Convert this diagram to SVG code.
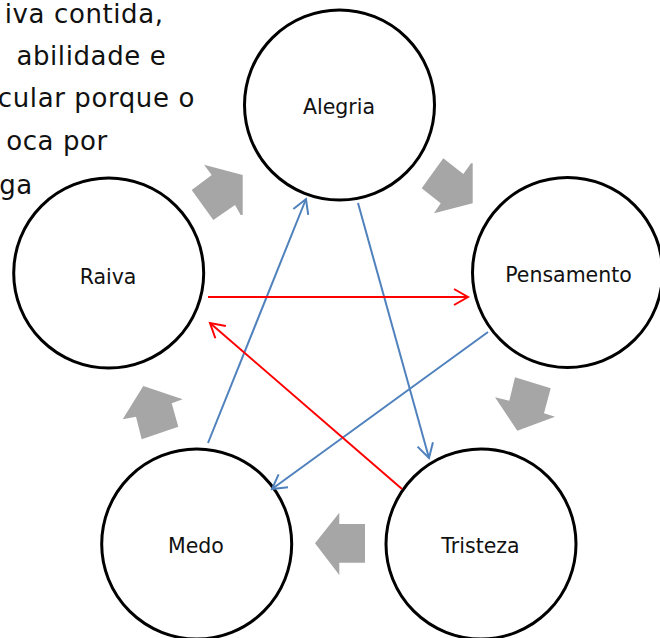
<svg xmlns="http://www.w3.org/2000/svg" width="660" height="638" viewBox="0 0 660 638">
  <style>
    .node circle { fill: #fff; stroke: #000; stroke-width: 3; }
    .label { font-family: "DejaVu Sans", sans-serif; font-size: 20.5px; fill: #111; text-anchor: middle; }
    .para { font-family: "DejaVu Sans", sans-serif; font-size: 26px; fill: #111; text-anchor: end; letter-spacing: 0.6px; }
    .blk { fill: #A6A6A6; }
    .blue { stroke: #4F81BD; stroke-width: 2; fill: none; marker-end: url(#ah-blue); }
    .red { stroke: #FF0000; stroke-width: 2; fill: none; marker-end: url(#ah-red); }
  </style>
  <defs>
    <marker id="ah-blue" markerUnits="userSpaceOnUse" markerWidth="20" markerHeight="20" viewBox="-16 -10 20 20" refX="0" refY="0" orient="auto">
      <path d="M-14,-8 L0,0 L-14,8" fill="none" stroke="#4F81BD" stroke-width="2"/>
    </marker>
    <marker id="ah-red" markerUnits="userSpaceOnUse" markerWidth="20" markerHeight="20" viewBox="-16 -10 20 20" refX="0" refY="0" orient="auto">
      <path d="M-14,-8 L0,0 L-14,8" fill="none" stroke="#FF0000" stroke-width="2"/>
    </marker>
  </defs>
  <rect width="660" height="638" fill="#fff"/>

  <g id="paragraph">
    <text class="para" x="163.6" y="22.5">iva contida,</text>
    <text class="para" x="166.3" y="64.5">abilidade e</text>
    <text class="para" x="194.9" y="107">cular porque o</text>
    <text class="para" x="107.9" y="150">oca por</text>
    <text class="para" x="32.9" y="194">ga</text>
  </g>

  <g id="cycle-arrows">
    <polygon class="blk" points="204,164.7 242.7,175 242.7,215 240.7,215 235,205 213.3,220 191.7,190 211.7,175"/>
    <polygon class="blk" points="443.3,158.3 463.3,174 471,163.3 472.7,163.3 472.7,203.3 434,213.3 440.7,203.3 421.7,188.3"/>
    <polygon class="blk" points="515,377.3 550.7,388.3 544,413.3 555,416.7 517.3,430.7 495,397.3 509.3,400.7"/>
    <polygon class="blk" points="315,543.3 339.3,512.7 339.3,524 365,524 365,562.7 339.3,562.7 339.3,575"/>
    <polygon class="blk" points="143.3,386 182.7,399.3 171.7,403.3 178.3,426.7 141.7,439.3 136,416.7 122.7,419.3"/>
  </g>

  <g id="node-alegria" class="node">
    <circle cx="339.5" cy="105" r="95"/>
    <text class="label" x="339" y="114">Alegria</text>
  </g>
  <g id="node-raiva" class="node">
    <circle cx="108.7" cy="273" r="95"/>
    <text class="label" x="108" y="284">Raiva</text>
  </g>
  <g id="node-pensamento" class="node">
    <circle cx="567.5" cy="272.5" r="95"/>
    <text class="label" x="568.5" y="282">Pensamento</text>
  </g>
  <g id="node-medo" class="node">
    <circle cx="196.7" cy="544" r="95"/>
    <text class="label" x="196" y="553">Medo</text>
  </g>
  <g id="node-tristeza" class="node">
    <circle cx="481" cy="544" r="95"/>
    <text class="label" x="480.5" y="553">Tristeza</text>
  </g>

  <g id="connectors">
    <line class="blue" x1="208" y1="443" x2="306" y2="199"/>
    <line class="blue" x1="358" y1="203" x2="429" y2="458"/>
    <line class="blue" x1="488" y1="332" x2="272" y2="489"/>
    <line class="red" x1="208" y1="297" x2="468" y2="297"/>
    <line class="red" x1="402" y1="489" x2="210" y2="323"/>
  </g>
</svg>
